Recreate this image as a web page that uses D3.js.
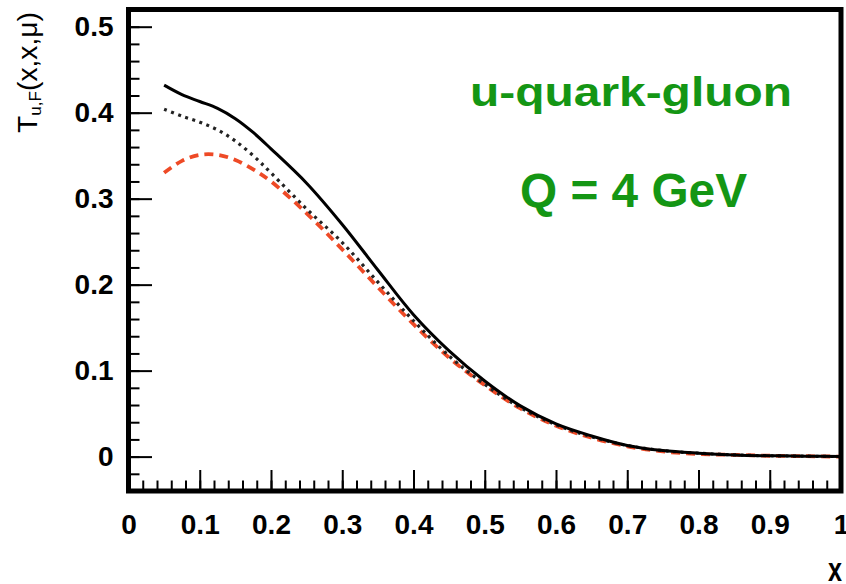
<!DOCTYPE html>
<html lang="en">
<head>
    <meta charset="UTF-8">
    <title>T u,F</title>
    <script src="https://cdn.jsdelivr.net/npm/d3@7"></script>
    <style>
        body { margin: 0; background: #fff; }
        text { font-family: "Liberation Sans", Arial, Helvetica, sans-serif; }
    </style>
</head>
<body>
<script>
    // x grid of the curves
    var xs = [0.05, 0.075, 0.1, 0.125, 0.15, 0.175, 0.2, 0.25, 0.3, 0.35, 0.4, 0.45,
              0.5, 0.55, 0.6, 0.65, 0.7, 0.75, 0.8, 0.85, 0.9, 0.95, 1.0];
    // solid black
    var solid = [0.432, 0.421, 0.413, 0.405, 0.393, 0.377, 0.358, 0.318, 0.270, 0.217, 0.165, 0.123,
                 0.088, 0.059, 0.038, 0.024, 0.013, 0.007, 0.004, 0.002, 0.001, 0.0005, 0.0];
    // dotted black
    var dotted = [0.404, 0.396, 0.389, 0.380, 0.367, 0.350, 0.330, 0.288, 0.249, 0.203, 0.158, 0.117,
                  0.084, 0.057, 0.037, 0.023, 0.013, 0.007, 0.004, 0.002, 0.001, 0.0005, 0.0];
    // dashed red
    var dashed = [0.330, 0.344, 0.351, 0.351, 0.345, 0.334, 0.320, 0.283, 0.241, 0.197, 0.154, 0.115,
                  0.083, 0.056, 0.036, 0.022, 0.012, 0.006, 0.003, 0.002, 0.001, 0.0005, 0.0];

    var xMajor = [0, 0.1, 0.2, 0.3, 0.4, 0.5, 0.6, 0.7, 0.8, 0.9, 1];
    var xMinor = d3.range(0, 1.0001, 0.02);
    var yMajor = [0, 0.1, 0.2, 0.3, 0.4, 0.5];
    var yMinor = d3.range(-0.02, 0.5201, 0.02);

    function draw() {
        var w = 846, h = 584;
        var pLeft = 128.5, pRight = 841, pTop = 9.5, pBottom = 491;

        var svg = d3.select("body").append("svg")
            .attr("width", w)
            .attr("height", h);

        var x = d3.scaleLinear().domain([0, 1]).range([pLeft, pRight]);
        var y = d3.scaleLinear().domain([-0.04, 0.52]).range([pBottom, pTop]);

        function fmt(d) { return d === 0 ? "0" : d === 1 ? "1" : d3.format(".1f")(d); }

        function styleLabels(g) {
            g.selectAll("text")
                .attr("font-size", 28)
                .attr("font-weight", "bold")
                .attr("fill", "#000")
                .style("font-family", "'Liberation Sans', Arial, sans-serif");
        }

        // minor x ticks
        svg.append("g")
            .attr("transform", "translate(0," + pBottom + ")")
            .call(d3.axisBottom(x).tickValues(xMinor).tickSize(-10.5).tickFormat(""))
            .call(function (g) { g.select(".domain").remove(); })
            .selectAll("line").attr("stroke-width", 2);
        // major x ticks
        var gx = svg.append("g")
            .attr("transform", "translate(0," + pBottom + ")")
            .call(d3.axisBottom(x).tickValues(xMajor).tickSize(-21).tickPadding(23).tickFormat(fmt))
            .call(function (g) { g.select(".domain").remove(); });
        gx.selectAll("line").attr("stroke-width", 2);
        styleLabels(gx);

        // minor y ticks
        svg.append("g")
            .attr("transform", "translate(" + pLeft + ",0)")
            .call(d3.axisLeft(y).tickValues(yMinor).tickSize(-11).tickFormat(""))
            .call(function (g) { g.select(".domain").remove(); })
            .selectAll("line").attr("stroke-width", 2);
        // major y ticks
        var gy = svg.append("g")
            .attr("transform", "translate(" + pLeft + ",0)")
            .call(d3.axisLeft(y).tickValues(yMajor).tickSize(-23.5).tickPadding(15).tickFormat(fmt))
            .call(function (g) { g.select(".domain").remove(); });
        gy.selectAll("line").attr("stroke-width", 2);
        styleLabels(gy);

        // curves
        var pts = function (vals) { return xs.map(function (d, i) { return [d, vals[i]]; }); };
        var line = d3.line()
            .x(function (d) { return x(d[0]); })
            .y(function (d) { return y(d[1]); })
            .curve(d3.curveCatmullRom);

        svg.append("path").datum(pts(dashed))
            .attr("d", line).attr("fill", "none")
            .attr("stroke", "#ee4a26").attr("stroke-width", 3.8)
            .attr("stroke-dasharray", "9,6");
        svg.append("path").datum(pts(dotted))
            .attr("d", line).attr("fill", "none")
            .attr("stroke", "#222").attr("stroke-width", 3.2)
            .attr("stroke-dasharray", "3,4.5");
        svg.append("path").datum(pts(solid))
            .attr("d", line).attr("fill", "none")
            .attr("stroke", "#000").attr("stroke-width", 3);

        // frame
        svg.append("rect")
            .attr("x", pLeft).attr("y", pTop)
            .attr("width", pRight - pLeft).attr("height", pBottom - pTop)
            .attr("fill", "none").attr("stroke", "#000").attr("stroke-width", 5);

        // labels
        svg.append("text")
            .attr("x", 470).attr("y", 106)
            .attr("font-size", 40).attr("font-weight", "bold")
            .attr("fill", "#149614")
            .attr("textLength", 322).attr("lengthAdjust", "spacingAndGlyphs")
            .text("u-quark-gluon");
        svg.append("text")
            .attr("x", 520).attr("y", 207)
            .attr("font-size", 48).attr("font-weight", "bold")
            .attr("fill", "#149614")
            .attr("textLength", 227).attr("lengthAdjust", "spacingAndGlyphs")
            .text("Q = 4 GeV");

        svg.append("text")
            .attr("x", 828).attr("y", 581)
            .attr("font-size", 34).attr("font-weight", "bold")
            .attr("textLength", 14).attr("lengthAdjust", "spacingAndGlyphs")
            .text("x");

        var yl = svg.append("text")
            .attr("transform", "translate(37,133) rotate(-90)")
            .attr("font-size", 28)
            .attr("textLength", 121).attr("lengthAdjust", "spacingAndGlyphs");
        yl.append("tspan").text("T");
        yl.append("tspan").attr("font-size", 17).attr("dy", 4).text("u,F");
        yl.append("tspan").attr("dy", -4).text("(x,x,\u03bc)");
    }
    draw();
</script>
</body>
</html>
